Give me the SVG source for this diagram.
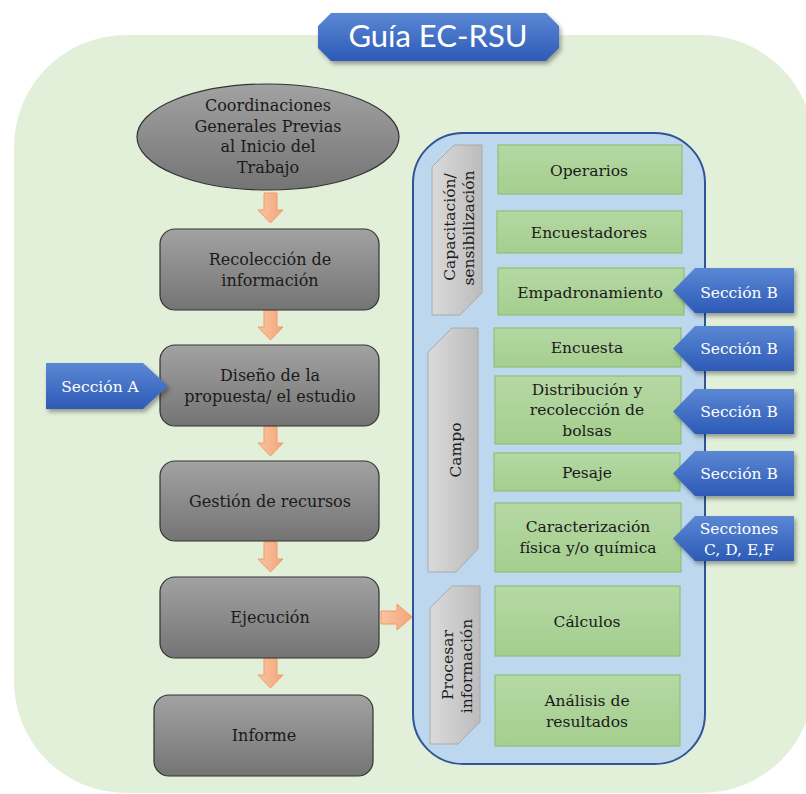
<svg xmlns="http://www.w3.org/2000/svg" width="806" height="794" viewBox="0 0 806 794">
<defs>
<linearGradient id="gGray" x1="0" y1="0" x2="0" y2="1"><stop offset="0" stop-color="#a2a2a2"/><stop offset="1" stop-color="#747474"/></linearGradient>
<linearGradient id="gGreen" x1="0" y1="0" x2="0" y2="1"><stop offset="0" stop-color="#b6d8a4"/><stop offset="1" stop-color="#a4ce8e"/></linearGradient>
<linearGradient id="gTab" x1="0" y1="0" x2="1" y2="0"><stop offset="0" stop-color="#dadada"/><stop offset="1" stop-color="#bcbcbc"/></linearGradient>
<linearGradient id="gBlue" x1="0" y1="0" x2="0" y2="1"><stop offset="0" stop-color="#5b88d4"/><stop offset="1" stop-color="#2d5ab6"/></linearGradient>
<linearGradient id="gOrange" x1="0" y1="0" x2="1" y2="0"><stop offset="0" stop-color="#f8c4a2"/><stop offset="1" stop-color="#f5a57a"/></linearGradient>
<filter id="sh" x="-10%" y="-10%" width="130%" height="140%"><feDropShadow dx="2" dy="3" stdDeviation="2" flood-color="#000" flood-opacity="0.35"/></filter>
<style>
.gbox{fill:url(#gGray);stroke:#333;stroke-width:1.2}
.grn{fill:url(#gGreen);stroke:#8cc275;stroke-width:1.2}
.tab{fill:url(#gTab);stroke:#aaaaaa;stroke-width:1}
.sec{fill:url(#gBlue);filter:url(#sh)}
.arr{fill:url(#gOrange);stroke:#f29a68;stroke-width:1}
text{font-family:"DejaVu Serif","Liberation Serif",serif;font-size:15.5px;fill:#1a1a1a;text-anchor:middle}
.lt{font-size:16px}
.wt{fill:#ffffff}
.title{font-family:Lato,"Open Sans","Liberation Sans",sans-serif;font-size:31px;fill:#ffffff}
</style>
</defs>
<rect id="background" x="14" y="35" width="800" height="758" rx="112" fill="#e2efd9"/>
<g id="title">
<path class="sec" d="M331,13 L546,13 L559,26 L559,48 L546,61 L331,61 L318,48 L318,26 Z"/>
<text class="title" x="438" y="47">Guía EC-RSU</text>
</g>
<g id="panel">
<rect x="413" y="133" width="292" height="631" rx="50" fill="#bdd7ee" stroke="#2f5597" stroke-width="2"/>
</g>
<g id="connectors">
<path class="arr" d="M264,193 H277 V210 H283 L270.5,223 L258,210 H264 Z"/>
<path class="arr" d="M264,310 H277 V327 H283 L270.5,340 L258,327 H264 Z"/>
<path class="arr" d="M264,426 H277 V443 H283 L270.5,456 L258,443 H264 Z"/>
<path class="arr" d="M264,542 H277 V559 H283 L270.5,572 L258,559 H264 Z"/>
<path class="arr" d="M264,658 H277 V675 H283 L270.5,688 L258,675 H264 Z"/>
<path class="arr" d="M381,611 H397 V604 L412,617 L397,630 V624 H381 Z"/>
</g>
<g id="n-coord">
<ellipse cx="268" cy="137" rx="131" ry="53" class="gbox"/>
<text class="lt" x="268" y="111">Coordinaciones</text>
<text class="lt" x="268" y="132">Generales Previas</text>
<text class="lt" x="268" y="152">al Inicio del</text>
<text class="lt" x="268" y="173">Trabajo</text>
</g>
<g id="n-recol">
<rect class="gbox" x="160" y="229" width="219" height="81" rx="15"/>
<text class="lt" x="270" y="265">Recolección de</text>
<text class="lt" x="270" y="286">información</text>
</g>
<g id="n-diseno">
<rect class="gbox" x="160" y="345" width="219" height="81" rx="15"/>
<text class="lt" x="270" y="381">Diseño de la</text>
<text class="lt" x="270" y="402">propuesta/ el estudio</text>
</g>
<g id="n-gestion">
<rect class="gbox" x="160" y="461" width="219" height="80" rx="15"/>
<text class="lt" x="270" y="507">Gestión de recursos</text>
</g>
<g id="n-ejec">
<rect class="gbox" x="160" y="577" width="219" height="81" rx="15"/>
<text class="lt" x="270" y="623">Ejecución</text>
</g>
<g id="n-informe">
<rect class="gbox" x="154" y="695" width="219" height="81" rx="15"/>
<text class="lt" x="264" y="741">Informe</text>
</g>
<g id="n-secA">
<path class="sec" d="M46,363 L143,363 L168,386 L143,409 L46,409 Z"/>
<text class="wt" x="100" y="392">Sección A</text>
</g>
<g id="tab-capac">
<path class="tab" d="M432,167 L454,145 L482,145 L482,293 L460,315 L432,315 Z"/>
<text transform="translate(455,227) rotate(-90)" x="0" y="0">Capacitación/</text>
<text transform="translate(474,228) rotate(-90)" x="0" y="0">sensibilización</text>
</g>
<g id="tab-campo">
<path class="tab" d="M428,352 L452,328 L478,328 L478,549 L456,572 L428,572 Z"/>
<text transform="translate(461,450) rotate(-90)" x="0" y="0">Campo</text>
</g>
<g id="tab-procesar">
<path class="tab" d="M430,608 L452,586 L480,586 L480,722 L458,744 L430,744 Z"/>
<text transform="translate(453,665) rotate(-90)" x="0" y="0">Procesar</text>
<text transform="translate(472,666) rotate(-90)" x="0" y="0">información</text>
</g>
<g id="n-operarios">
<rect class="grn" x="498" y="145" width="184" height="49"/>
<text x="589" y="176">Operarios</text>
</g>
<g id="n-encuestadores">
<rect class="grn" x="497" y="211" width="185" height="42"/>
<text x="589" y="238">Encuestadores</text>
</g>
<g id="n-empadron">
<rect class="grn" x="498" y="268" width="186" height="47"/>
<text x="590" y="298">Empadronamiento</text>
</g>
<g id="n-encuesta">
<rect class="grn" x="494" y="328" width="187" height="39"/>
<text x="587" y="353">Encuesta</text>
</g>
<g id="n-distrib">
<rect class="grn" x="495" y="376" width="186" height="68"/>
<text x="587" y="395">Distribución y</text>
<text x="587" y="415">recolección de</text>
<text x="587" y="436">bolsas</text>
</g>
<g id="n-pesaje">
<rect class="grn" x="494" y="453" width="186" height="38"/>
<text x="587" y="478">Pesaje</text>
</g>
<g id="n-caract">
<rect class="grn" x="495" y="503" width="186" height="69"/>
<text x="588" y="532">Caracterización</text>
<text x="588" y="553">física y/o química</text>
</g>
<g id="n-calculos">
<rect class="grn" x="495" y="586" width="185" height="70"/>
<text x="587" y="627">Cálculos</text>
</g>
<g id="n-analisis">
<rect class="grn" x="495" y="675" width="185" height="71"/>
<text x="587" y="706">Análisis de</text>
<text x="587" y="727">resultados</text>
</g>
<g id="n-secB1">
<path class="sec" d="M673,290.5 L695,268 L794,268 L794,313 L695,313 Z"/>
<text class="wt" x="739" y="298">Sección B</text>
</g>
<g id="n-secB2">
<path class="sec" d="M673,348.5 L695,326 L794,326 L794,371 L695,371 Z"/>
<text class="wt" x="739" y="354">Sección B</text>
</g>
<g id="n-secB3">
<path class="sec" d="M673,411.5 L695,389 L794,389 L794,434 L695,434 Z"/>
<text class="wt" x="739" y="417">Sección B</text>
</g>
<g id="n-secB4">
<path class="sec" d="M673,473.5 L695,451 L794,451 L794,496 L695,496 Z"/>
<text class="wt" x="739" y="479">Sección B</text>
</g>
<g id="n-secCDEF">
<path class="sec" d="M673,538.5 L695,516 L794,516 L794,561 L695,561 Z"/>
<text class="wt" x="739" y="534">Secciones</text>
<text class="wt" x="739" y="555">C, D, E,F</text>
</g>
</svg>
